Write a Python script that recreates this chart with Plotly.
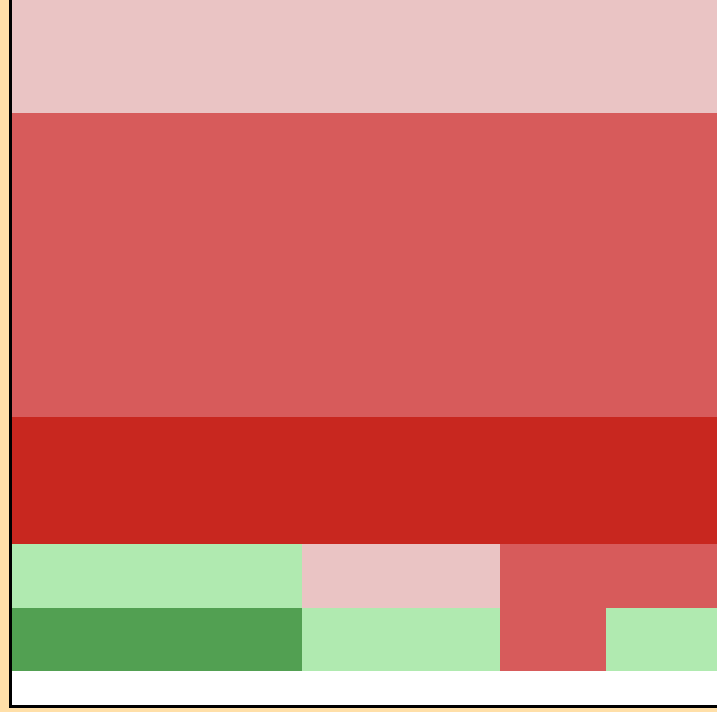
import plotly.graph_objects as go

# Cell boundaries along each axis
x_edges = [0, 290, 488, 594, 705]
y_edges = [0, 34, 97, 161, 288, 592, 705]

# Category level for each cell, bottom row first (None = empty)
row_0 = [None, None, None, None]
row_1 = [-2, -1, 2, -1]
row_2 = [-1, 1, 2, 2]
row_3 = [3, 3, 3, 3]
row_4 = [2, 2, 2, 2]
row_5 = [1, 1, 1, 1]
z = [row_0, row_1, row_2, row_3, row_4, row_5]

levels = [-2, -1, 1, 2, 3]
level_colors = ["#52A052", "#B0EAB0", "#EAC4C4", "#D75B5B", "#C8271F"]

# Discrete colorscale: one flat band per level
lo, hi = -2.5, 3.5
scale = []
bounds = [-2.5, -1.5, 0, 1.5, 2.5, 3.5]
for i, c in enumerate(level_colors):
    a = (bounds[i] - lo) / (hi - lo)
    b = (bounds[i + 1] - lo) / (hi - lo)
    scale.append([a, c])
    scale.append([b, c])

fig = go.Figure(go.Heatmap(
    x=x_edges,
    y=y_edges,
    z=z,
    zmin=lo,
    zmax=hi,
    colorscale=scale,
    showscale=False,
    hoverongaps=False,
))

fig.update_layout(
    width=717,
    height=712,
    margin=dict(l=12, r=0, t=0, b=7),
    paper_bgcolor="#FFDFA8",
    plot_bgcolor="white",
    showlegend=False,
)
fig.update_xaxes(range=[0, 705], showgrid=False, zeroline=False, showticklabels=False,
                 ticks="", showline=True, linecolor="black", linewidth=3)
fig.update_yaxes(range=[0, 705], showgrid=False, zeroline=False, showticklabels=False,
                 ticks="", showline=True, linecolor="black", linewidth=3)

fig.write_html("out.html")
